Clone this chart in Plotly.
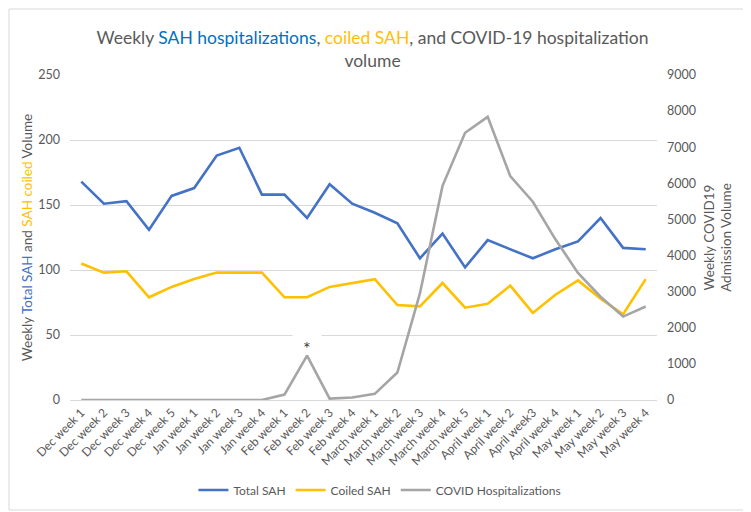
import plotly.graph_objects as go

# ----- Data -----
weeks = ["Dec week 1", "Dec week 2", "Dec week 3", "Dec week 4", "Dec week 5",
         "Jan week 1", "Jan week 2", "Jan week 3", "Jan week 4",
         "Feb week 1", "Feb week 2", "Feb week 3", "Feb week 4",
         "March week 1", "March week 2", "March week 3", "March week 4", "March week 5",
         "April week 1", "April week 2", "April week3", "April week 4",
         "May week 1", "May week 2", "May week 3", "May week 4"]
total_sah = [168, 151, 153, 131, 157, 163, 188, 194, 158, 158, 140, 166, 151,
             144, 136, 109, 128, 102, 123, 116, 109, 116, 122, 140, 117, 116]
coiled_sah = [105, 98, 99, 79, 87, 93, 98, 98, 98, 79, 79, 87, 90,
              93, 73, 72, 90, 71, 74, 88, 67, 81, 92, 78, 66, 93]
covid_hosp = [0, 0, 0, 0, 0, 0, 0, 0, 0, 150, 1230, 40, 70,
              170, 760, 2950, 5930, 7400, 7840, 6200, 5490, 4450, 3520, 2860, 2310, 2590]

BLUE = "#4472C4"
YELLOW = "#FFC000"
GRAY = "#A5A5A5"
TXT = "#595959"
FONT = "Lato, Open Sans, sans-serif"

fig = go.Figure()

fig.add_trace(go.Scatter(x=weeks, y=total_sah, mode="lines", name="Total SAH",
                         line=dict(color=BLUE, width=2.6)))
fig.add_trace(go.Scatter(x=weeks, y=coiled_sah, mode="lines", name="Coiled SAH",
                         line=dict(color=YELLOW, width=2.6)))
fig.add_trace(go.Scatter(x=weeks, y=covid_hosp, mode="lines", name="COVID Hospitalizations",
                         line=dict(color=GRAY, width=2.6), yaxis="y2"))

# asterisk above the February spike; a white label box breaks the gridline like the original
fig.add_annotation(x="Feb week 2", y=covid_hosp[10], yref="y2", text=" ",
                   showarrow=False, yshift=19, width=28, height=10, borderpad=0,
                   bgcolor="white", font=dict(size=8))
fig.add_annotation(x="Feb week 2", y=covid_hosp[10], yref="y2", text="*",
                   showarrow=False, yshift=8, font=dict(size=18, color="#404040", family=FONT))

# page body has an 8px margin, so the figure is sized to fit the 751x512 window
fig.update_layout(
    width=743, height=504,
    margin=dict(l=62, r=94, t=67, b=112, autoexpand=False),
    paper_bgcolor="white", plot_bgcolor="white",
    font=dict(family=FONT, color=TXT, size=12),
    title=dict(
        text=("Weekly <span style='color:#0070C0'>SAH hospitalizations</span>, "
              "<span style='color:#FFC000'>coiled SAH</span>, and COVID-19 hospitalization<br>volume"),
        x=0.4906, xanchor="center", y=0.929, yanchor="top",
        font=dict(size=17.5, color=TXT, family=FONT)),
    xaxis=dict(range=[-0.5, 25.5], tickangle=-45, showgrid=False, automargin=False,
               showline=True, linecolor="#D9D9D9", ticks="",
               tickfont=dict(size=12, color=TXT)),
    yaxis=dict(range=[0, 250], dtick=50, gridcolor="#D9D9D9", zeroline=False,
               automargin=False, ticklabelstandoff=9, tickfont=dict(size=12.5, color=TXT),
               title=dict(text=("Weekly <span style='color:#4472C4'>Total SAH</span> and "
                                "<span style='color:#FFC000'>SAH coiled</span> Volume"),
                          font=dict(size=13.5, color=TXT), standoff=2)),
    yaxis2=dict(range=[0, 9000], dtick=1000, overlaying="y", side="right",
                showgrid=False, zeroline=False, automargin=False, ticklabelstandoff=9,
                tickfont=dict(size=12.5, color=TXT),
                title=dict(text="Weekly COVID19<br>Admission Volume",
                           font=dict(size=13.5, color=TXT), standoff=9)),
    legend=dict(orientation="h", x=0.528, xanchor="center", y=-0.277, yanchor="middle",
                font=dict(size=12, color=TXT), itemwidth=30, tracegroupgap=0),
    shapes=[dict(type="rect", xref="paper", yref="paper",
                 x0=-61 / 587, x1=1 + 92 / 587, y0=-110 / 325, y1=1 + 66 / 325,
                 line=dict(color="#D9D9D9", width=1))],
)

fig.write_html("out.html")
